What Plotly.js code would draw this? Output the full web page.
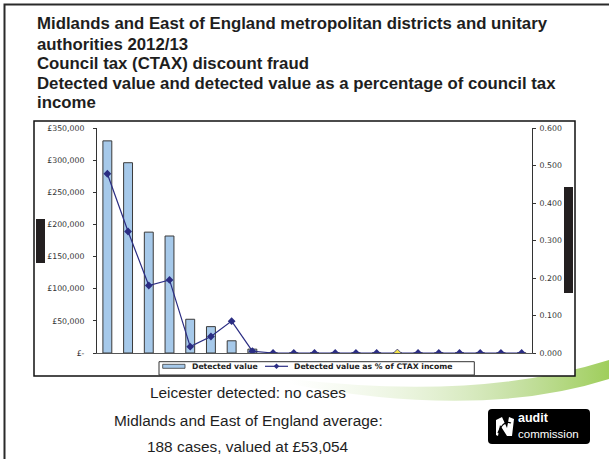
<!DOCTYPE html>
<html>
<head>
<meta charset="utf-8">
<script src="https://cdn.plot.ly/plotly-3.0.1.min.js"></script>
<style>
  html, body { margin: 0; padding: 0; background: #fff; }
  #chart { width: 609px; height: 459px; }
</style>
</head>
<body>
<div id="chart"></div>
<script>
// Authorities, ranked by detected value (Leicester highlighted)
const authorities = [
  'Authority A', 'Authority B', 'Authority C', 'Authority D', 'Authority E',
  'Authority F', 'Authority G', 'Authority H', 'Authority I', 'Authority J',
  'Authority K', 'Authority L', 'Authority M', 'Authority N', 'Leicester',
  'Authority P', 'Authority Q', 'Authority R', 'Authority S', 'Authority T',
  'Authority U'
];
// Detected value of CTAX discount fraud (£)
const detectedValue = [
  330000, 296000, 188000, 182000, 52500, 41000, 19000, 6000, 0, 0,
  0, 0, 0, 0, 0, 0, 0, 0, 0, 0, 0
];
// Detected value as % of CTAX income
const pctOfCtaxIncome = [
  0.478, 0.324, 0.180, 0.195, 0.017, 0.044, 0.085, 0.005, 0, 0,
  0, 0, 0, 0, 0, 0, 0, 0, 0, 0, 0
];
const highlighted = 'Leicester';

const valueTicks = [0, 50000, 100000, 150000, 200000, 250000, 300000, 350000];
const valueTickLabels = ['£-', '£50,000', '£100,000', '£150,000', '£200,000', '£250,000', '£300,000', '£350,000'];
const pctTicks = [0, 0.1, 0.2, 0.3, 0.4, 0.5, 0.6];
const pctTickLabels = ['0.000', '0.100', '0.200', '0.300', '0.400', '0.500', '0.600'];

const titleLines = [
  'Midlands and East of England metropolitan districts and unitary',
  'authorities 2012/13',
  'Council tax (CTAX) discount fraud',
  'Detected value and detected value as a percentage of council tax',
  'income'
];
const noteLines = [
  'Leicester detected: no cases',
  'Midlands and East of England average:',
  '188 cases, valued at £53,054'
];
const legendNames = ['Detected value', 'Detected value as % of CTAX income'];

// ---- page geometry (pixels) ----
const PAGE_W = 609, PAGE_H = 459;
const M = { l: 97, r: 77, t: 128, b: 106 };
const PL = M.l, PR = PAGE_W - M.r, PT = M.t, PB = PAGE_H - M.b;
const xp = px => (px - PL) / (PR - PL);
const yp = py => (PB - py) / (PB - PT);

const NAVY = '#2b2d83';
const BAR_FILL = '#a6c9ea';
const BAR_EDGE = '#3a3a3a';
const AXIS = '#333333';
const TICK_FONT = { family: 'DejaVu Sans, Verdana, sans-serif', size: 7.8, color: '#333' };

// ---- traces ----
const bars = {
  type: 'bar',
  name: legendNames[0],
  x: authorities,
  y: detectedValue,
  width: 0.43,
  marker: { color: BAR_FILL, line: { color: BAR_EDGE, width: 1 } },
  xaxis: 'x', yaxis: 'y',
  hoverinfo: 'x+y'
};
const line = {
  type: 'scatter',
  mode: 'lines+markers',
  name: legendNames[1],
  x: authorities,
  y: pctOfCtaxIncome,
  line: { color: NAVY, width: 1.2 },
  marker: {
    symbol: 'diamond',
    size: 6,
    color: authorities.map(a => a === highlighted ? '#f2e24a' : NAVY),
    line: { color: NAVY, width: authorities.map(a => a === highlighted ? 0.8 : 0) }
  },
  xaxis: 'x', yaxis: 'y2'
};

// ---- background decoration: slide frame, swoosh, logo plate ----
const bgSvg =
  "<svg xmlns='http://www.w3.org/2000/svg' width='609' height='459' viewBox='0 0 609 459' preserveAspectRatio='none'>" +
  "<defs><linearGradient id='g' x1='0' x2='1' y1='0' y2='0'>" +
  "<stop offset='0' stop-color='#dcecc8' stop-opacity='0'/>" +
  "<stop offset='0.35' stop-color='#d4e8ba' stop-opacity='0.45'/>" +
  "<stop offset='0.7' stop-color='#bedc96' stop-opacity='0.85'/>" +
  "<stop offset='1' stop-color='#9fce5c' stop-opacity='1'/>" +
  "</linearGradient></defs>" +
  "<path d='M4.5,459 V4.5 H609' fill='none' stroke='#2a2a2a' stroke-width='2'/>" +
  "<path d='M290,379 Q480,401 609,360 L609,379 Q480,420 290,384 Z' fill='url(#g)'/>" +
  "<rect x='488' y='409' width='102' height='35' rx='4' ry='4' fill='#000'/>" +
  "<path d='M496,420 L502,417 L507,428 L509,417 L514,419 L512,436 L507,436 L500,425 L498,436 L496,435 Z' fill='#fff'/>" +
  "<path d='M498,433 Q503,420 511,423' fill='none' stroke='#000' stroke-width='1.3'/>" +
  "</svg>";
const bgImage = {
  source: 'data:image/svg+xml;charset=utf-8,' + encodeURIComponent(bgSvg),
  xref: 'paper', yref: 'paper',
  x: xp(0), y: yp(0),
  sizex: PAGE_W / (PR - PL), sizey: PAGE_H / (PB - PT),
  xanchor: 'left', yanchor: 'top',
  sizing: 'stretch', layer: 'below'
};

const rectPx = (x0, y0, x1, y1, opts) => Object.assign({
  type: 'rect', xref: 'paper', yref: 'paper',
  x0: xp(x0), x1: xp(x1), y0: yp(y1), y1: yp(y0)
}, opts);
const linePx = (x0, y0, x1, y1, opts) => Object.assign({
  type: 'line', xref: 'paper', yref: 'paper',
  x0: xp(x0), x1: xp(x1), y0: yp(y0), y1: yp(y1)
}, opts);
const diamondPx = (cx, cy, r, opts) => Object.assign({
  type: 'path', xref: 'paper', yref: 'paper',
  path: `M${xp(cx - r)},${yp(cy)} L${xp(cx)},${yp(cy - r)} L${xp(cx + r)},${yp(cy)} L${xp(cx)},${yp(cy + r)} Z`
}, opts);

const shapes = [
  // chart frame
  rectPx(34, 121, 575, 376, { fillcolor: '#fff', line: { color: '#111', width: 1.5 }, layer: 'below' }),
  // legend
  rectPx(159, 361.7, 474.3, 375, { fillcolor: '#fff', line: { color: '#333', width: 1 }, layer: 'above' }),
  rectPx(162.7, 364.3, 185, 368.3, { fillcolor: BAR_FILL, line: { color: BAR_EDGE, width: 0.8 }, layer: 'above' }),
  linePx(265, 366.3, 288, 366.3, { line: { color: NAVY, width: 1.2 }, layer: 'above' }),
  diamondPx(276.5, 366.3, 2.8, { fillcolor: NAVY, line: { width: 0 }, layer: 'above' }),
  // black markers on the slide edges
  rectPx(36, 219, 45, 263, { fillcolor: '#231f20', line: { width: 0 }, layer: 'above' }),
  rectPx(564, 187, 573, 293, { fillcolor: '#231f20', line: { width: 0 }, layer: 'above' })
];

const annPx = (text, x, y, font, xanchor) => ({
  text, xref: 'paper', yref: 'paper', x: xp(x), y: yp(y),
  xanchor: xanchor || 'left', yanchor: 'middle', showarrow: false, font
});
const TITLE_FONT = { family: 'Liberation Sans, Arial, sans-serif', size: 16.8, color: '#1e1e1e', weight: 'bold' };
const NOTE_FONT = { family: 'Liberation Sans, Arial, sans-serif', size: 15.4, color: '#1e1e1e' };
const LEGEND_FONT = { family: 'DejaVu Sans, Verdana, sans-serif', size: 7.7, color: '#222', weight: 'bold' };

const titleY = [23, 44, 63.5, 83.5, 103];
const noteY = [392, 420, 446];
const annotations = [
  ...titleLines.map((t, i) => annPx(t, 35, titleY[i], TITLE_FONT)),
  ...noteLines.map((t, i) => annPx(t, 248, noteY[i], NOTE_FONT, 'center')),
  annPx(legendNames[0], 190, 366.5, LEGEND_FONT),
  annPx(legendNames[1], 291.5, 366.5, LEGEND_FONT),
  annPx('audit', 516, 418.3, { family: 'Liberation Sans, Arial, sans-serif', size: 12.5, color: '#fff', weight: 'bold' }),
  annPx('commission', 516, 434.3, { family: 'Liberation Sans, Arial, sans-serif', size: 11.5, color: '#fff' })
];

const baseY = {
  showgrid: false, zeroline: false, fixedrange: true,
  tickfont: TICK_FONT, tickcolor: AXIS, tickwidth: 1
};

const layout = {
  width: PAGE_W, height: PAGE_H,
  margin: { l: M.l, r: M.r, t: M.t, b: M.b, pad: 0 },
  paper_bgcolor: '#fff',
  plot_bgcolor: 'rgba(0,0,0,0)',
  showlegend: false,
  xaxis: {
    type: 'category', range: [-0.5, authorities.length - 0.5],
    showticklabels: false, ticks: '', showgrid: false, zeroline: false,
    showline: true, linecolor: '#555', linewidth: 1, fixedrange: true
  },
  yaxis: Object.assign({}, baseY, {
    range: [0, 350000], tickvals: valueTicks, ticktext: valueTickLabels,
    ticks: 'outside', ticklen: 3, showline: true, linecolor: AXIS, linewidth: 1,
    ticklabelstandoff: 7
  }),
  yaxis2: Object.assign({}, baseY, {
    overlaying: 'y', side: 'right',
    range: [0, 0.6], tickvals: pctTicks, ticktext: pctTickLabels,
    ticks: 'outside', ticklen: 3, showline: true, linecolor: AXIS, linewidth: 1,
    ticklabelstandoff: 2
  }),
  // inner halves of the crossing tick marks
  yaxis3: Object.assign({}, baseY, {
    overlaying: 'y', side: 'left', range: [0, 350000], tickvals: valueTicks,
    ticks: 'inside', ticklen: 3, showticklabels: false, showline: false
  }),
  yaxis4: Object.assign({}, baseY, {
    overlaying: 'y', side: 'right', range: [0, 0.6], tickvals: pctTicks,
    ticks: 'inside', ticklen: 3, showticklabels: false, showline: false
  }),
  images: [bgImage],
  shapes,
  annotations
};

Plotly.newPlot('chart', [bars, line], layout, { staticPlot: true, displayModeBar: false });
</script>
</body>
</html>
